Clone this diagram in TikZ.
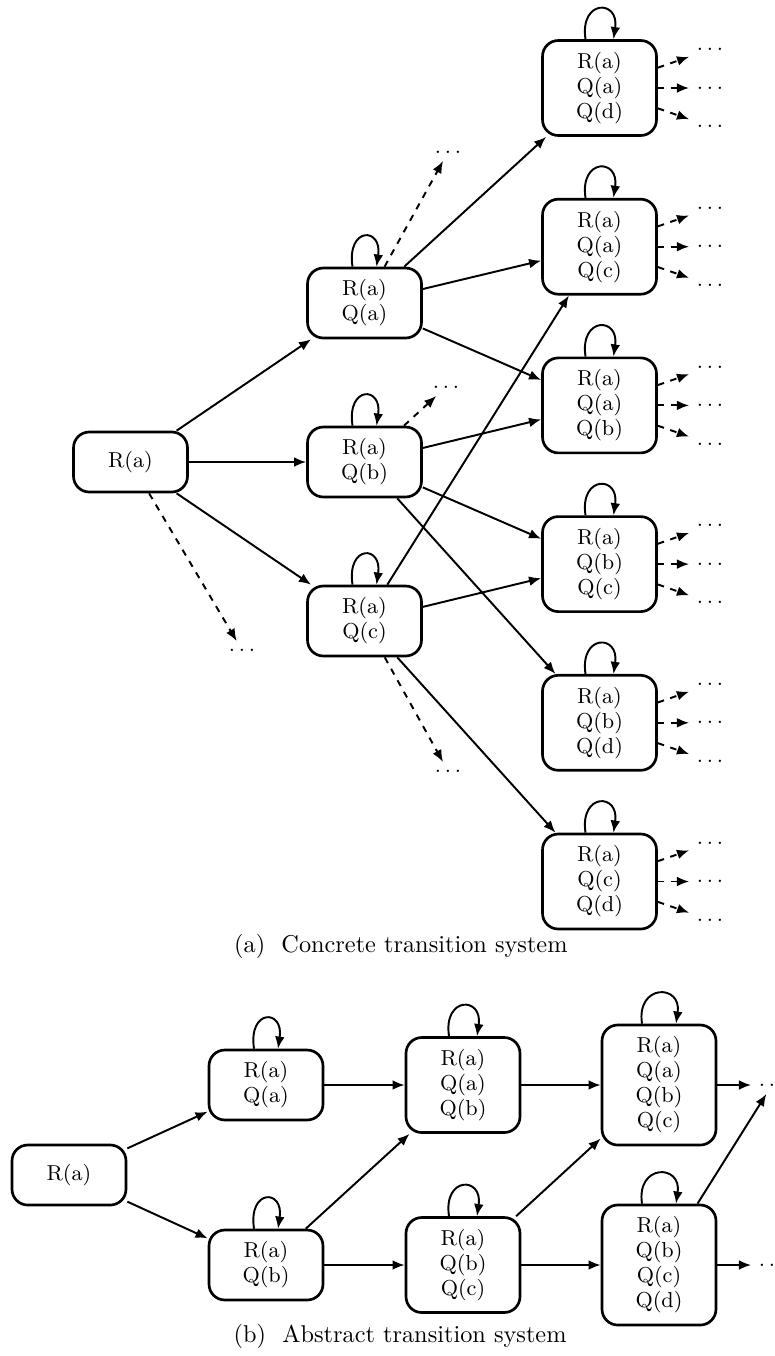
\documentclass[tikz,border=0pt]{standalone}
\usetikzlibrary{arrows.meta,calc}
% self-loop on top of a state: #1 node name, #2 half distance between the legs
\newcommand\selfloop[2]{\draw[arr] ($(#1.north)+(-#2,0)$) .. controls +(-6,-40) and +(6,-40) .. ($(#1.north)+(#2,0)$);}
\begin{document}
\begin{tikzpicture}[x=0.4115pt,y=-0.4115pt,
  state/.style={draw,line width=1.1pt,rounded corners=6.5pt,minimum width=46.9pt,
    minimum height=24.7pt,align=center,inner xsep=3pt,inner ysep=4.8pt,
    font=\fontsize{8.9}{10.3}\selectfont},
  ell/.style={inner sep=3pt,font=\fontsize{8.9}{10.3}\selectfont},
  arr/.style={line width=0.8pt,-{Latex[length=5pt,width=4pt]}},
  dsh/.style={arr,dash pattern=on 2.7pt off 2.7pt},
  captext/.style={inner sep=0pt,anchor=base east,font=\fontsize{10}{12}\selectfont}]
\useasboundingbox (0,0) rectangle (775,1356);

% ---------------- concrete transition system ----------------
\node[state] (r)  at (130.5,462) {R(a)};
\node[state] (a1) at (364.5,303) {R(a)\\Q(a)};
\node[state] (a2) at (364.5,462) {R(a)\\Q(b)};
\node[state] (a3) at (364.5,621) {R(a)\\Q(c)};

\node[state] (b1) at (599.5,88)    {R(a)\\Q(a)\\Q(d)};
\node[state] (b2) at (599.5,246.7) {R(a)\\Q(a)\\Q(c)};
\node[state] (b3) at (599.5,405.4) {R(a)\\Q(a)\\Q(b)};
\node[state] (b4) at (599.5,564.1) {R(a)\\Q(b)\\Q(c)};
\node[state] (b5) at (599.5,722.8) {R(a)\\Q(b)\\Q(d)};
\node[state] (b6) at (599.5,881.5) {R(a)\\Q(c)\\Q(d)};

\node[ell] (rd)  at (242,650) {$\ldots$};
\node[ell] (a1d) at (448,152) {$\ldots$};
\node[ell] (a2d) at (446,387) {$\ldots$};
\node[ell] (a3d) at (448,771) {$\ldots$};

\foreach \b in {b1,b2,b3,b4,b5,b6}{
  \node[ell] (\b u) at ($(\b)+(110.5,-38.5)$) {$\ldots$};
  \node[ell] (\b m) at ($(\b)+(110.5,0)$) {$\ldots$};
  \node[ell] (\b l) at ($(\b)+(110.5,38.5)$) {$\ldots$};
  \draw[dsh] (\b) -- (\b u);
  \draw[dsh] (\b) -- (\b m);
  \draw[dsh] (\b) -- (\b l);
  \selfloop{\b}{14}
}

\draw[arr] (r) -- (a1);
\draw[arr] (r) -- (a2);
\draw[arr] (r) -- (a3);
\draw[dsh] (r) -- (rd);

\draw[arr] (a1) -- (b1);
\draw[arr] (a1) -- (b2);
\draw[arr] (a1) -- (b3);
\draw[dsh] (a1) -- (a1d);

\draw[arr] (a2) -- (b3);
\draw[arr] (a2) -- (b4);
\draw[arr] (a2) -- (b5);
\draw[dsh] (a2) -- (a2d);

\draw[arr] (a3) -- (b2);
\draw[arr] (a3) -- (b4);
\draw[arr] (a3) -- (b6);
\draw[dsh] (a3) -- (a3d);

\selfloop{a1}{12}
\selfloop{a2}{12}
\selfloop{a3}{12}

\node[captext] (capa) at (568,952) {(a)\ \ Concrete transition system};

% ---------------- abstract transition system ----------------
\node[state] (R)  at (69,1175)  {R(a)};
\node[state] (p1) at (266,1085) {R(a)\\Q(a)};
\node[state] (p2) at (266,1265) {R(a)\\Q(b)};
\node[state] (q1) at (463,1085) {R(a)\\Q(a)\\Q(b)};
\node[state] (q2) at (463,1265) {R(a)\\Q(b)\\Q(c)};
\node[state] (s1) at (659,1085) {R(a)\\Q(a)\\Q(b)\\Q(c)};
\node[state] (s2) at (659,1265) {R(a)\\Q(b)\\Q(c)\\Q(d)};
\node[ell] (d1) at (772,1085) {$\ldots$};
\node[ell] (d2) at (772,1265) {$\ldots$};

\draw[arr] (R) -- (p1);
\draw[arr] (R) -- (p2);
\draw[arr] (p1) -- (q1);
\draw[arr] (p2) -- (q1);
\draw[arr] (p2) -- (q2);
\draw[arr] (q1) -- (s1);
\draw[arr] (q2) -- (s1);
\draw[arr] (q2) -- (s2);
\draw[arr] (s1) -- (d1);
\draw[arr] (s2) -- (d1);
\draw[arr] (s2) -- (d2);

\selfloop{p1}{12}
\selfloop{p2}{12}
\selfloop{q1}{14}
\selfloop{q2}{14}
\selfloop{s1}{17}
\selfloop{s2}{17}

\node[captext] (capb) at (567,1342) {(b)\ \ Abstract transition system};
\end{tikzpicture}
\end{document}
